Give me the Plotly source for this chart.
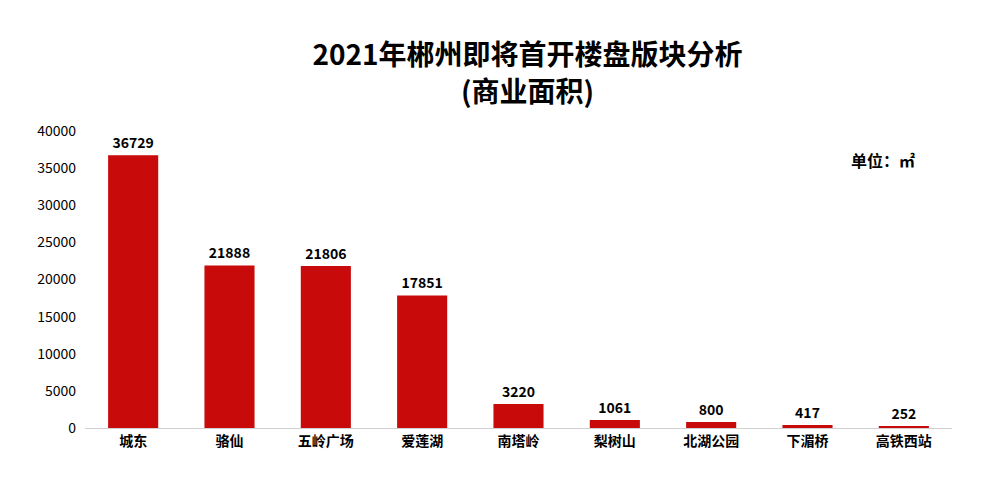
import plotly.graph_objects as go

areas = ["城东", "骆仙", "五岭广场", "爱莲湖", "南塔岭", "梨树山", "北湖公园", "下湄桥", "高铁西站"]
values = [36729, 21888, 21806, 17851, 3220, 1061, 800, 417, 252]

font = "Noto Sans CJK SC"

fig = go.Figure(go.Bar(
    x=areas, y=values,
    width=0.52,
    marker=dict(color="#c80a0a", line=dict(width=0)),
    text=values, textposition="outside",
    textfont=dict(family=font, size=14, color="black", weight="bold"),
    cliponaxis=False,
))

fig.update_layout(
    width=999, height=498,
    paper_bgcolor="white", plot_bgcolor="white",
    margin=dict(l=77, r=55, t=123, b=78),
    title=dict(text="2021年郴州即将首开楼盘版块分析<br>(商业面积)",
               x=0.52, xanchor="center", y=0.885, yanchor="top",
               font=dict(family=font, size=28, color="black", weight="bold")),
    showlegend=False,
    font=dict(family=font),
)
fig.update_xaxes(showline=True, linecolor="#d0d0d0", linewidth=1,
                 tickfont=dict(family=font, size=14, color="black", weight="bold"))
fig.update_yaxes(range=[0, 40000], dtick=5000, tickformat="d", showgrid=False, zeroline=False,
                 tickfont=dict(family=font, size=14, color="black"),
                 ticklabelstandoff=8)
fig.add_annotation(text="单位：㎡", xref="paper", yref="paper", x=0.96, y=0.95,
                   xanchor="right", showarrow=False,
                   font=dict(family=font, size=16, color="black", weight="bold"))

fig.write_html("out.html")
